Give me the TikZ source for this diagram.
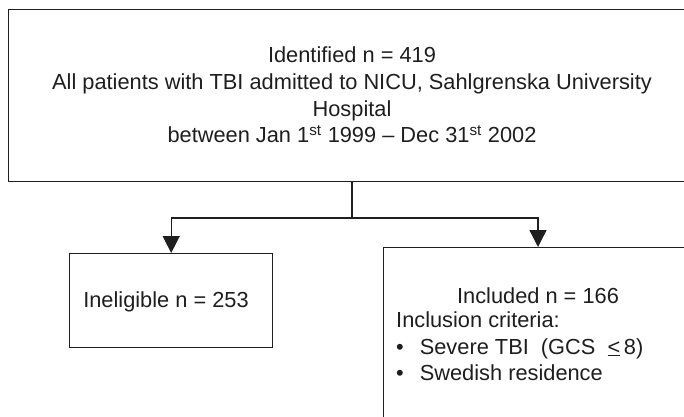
\documentclass[tikz,border=0pt]{standalone}
\usepackage{fontspec}
\setmainfont{Liberation Sans}
\usetikzlibrary{arrows.meta}
\begin{document}
\begin{tikzpicture}[x=1pt,y=-1pt,
  box/.style={draw=ink, line width=1.4pt, inner sep=0pt, anchor=north west},
  txt/.style={text=ink, font=\fontsize{21.8}{26.7}\selectfont, inner sep=0pt},
  conn/.style={draw=ink, line width=1.4pt},
  arr/.style={conn, -{Triangle[width=17pt,length=17pt]}}]
\definecolor{ink}{HTML}{1E1E1E}
\useasboundingbox (0,0) rectangle (684,416);
\clip (0,0) rectangle (684,416);
% boxes
\node[box, minimum width=700pt, minimum height=172pt] (top) at (8,9) {};
\node[box, minimum width=203pt, minimum height=94pt] (inel) at (69,253) {};
\node[box, minimum width=340pt, minimum height=200pt] (incl) at (383,247) {};
% texts
\node[txt, align=center] (toptext) at (352,95)
 {Identified n = 419\\
  All patients with TBI admitted to NICU, Sahlgrenska University\\
  Hospital\\
  between Jan 1\textsuperscript{st} 1999 -- Dec 31\textsuperscript{st} 2002};
\node[txt, anchor=base] (ineltext) at (166,307) {Ineligible n = 253};
\node[txt, anchor=base] (incltitle) at (538,303) {Included n = 166};
\node[txt, anchor=base west] (critlabel) at (396,327) {Inclusion criteria:};
\node[txt, anchor=base west] (b1) at (396,354) {•\hspace{16pt}Severe TBI\ \ (GCS\ \ \underline{<}\,8)};
\node[txt, anchor=base west] (b2) at (396,380) {•\hspace{16pt}Swedish residence};
% connectors
\coordinate (split) at (352,218);
\coordinate (inctarget) at (538,247);
\draw[conn] (top.south -| split) -- (split);
\draw[arr] (split) -| (inel.north);
\draw[arr] (split) -| (inctarget);
\end{tikzpicture}
\end{document}
